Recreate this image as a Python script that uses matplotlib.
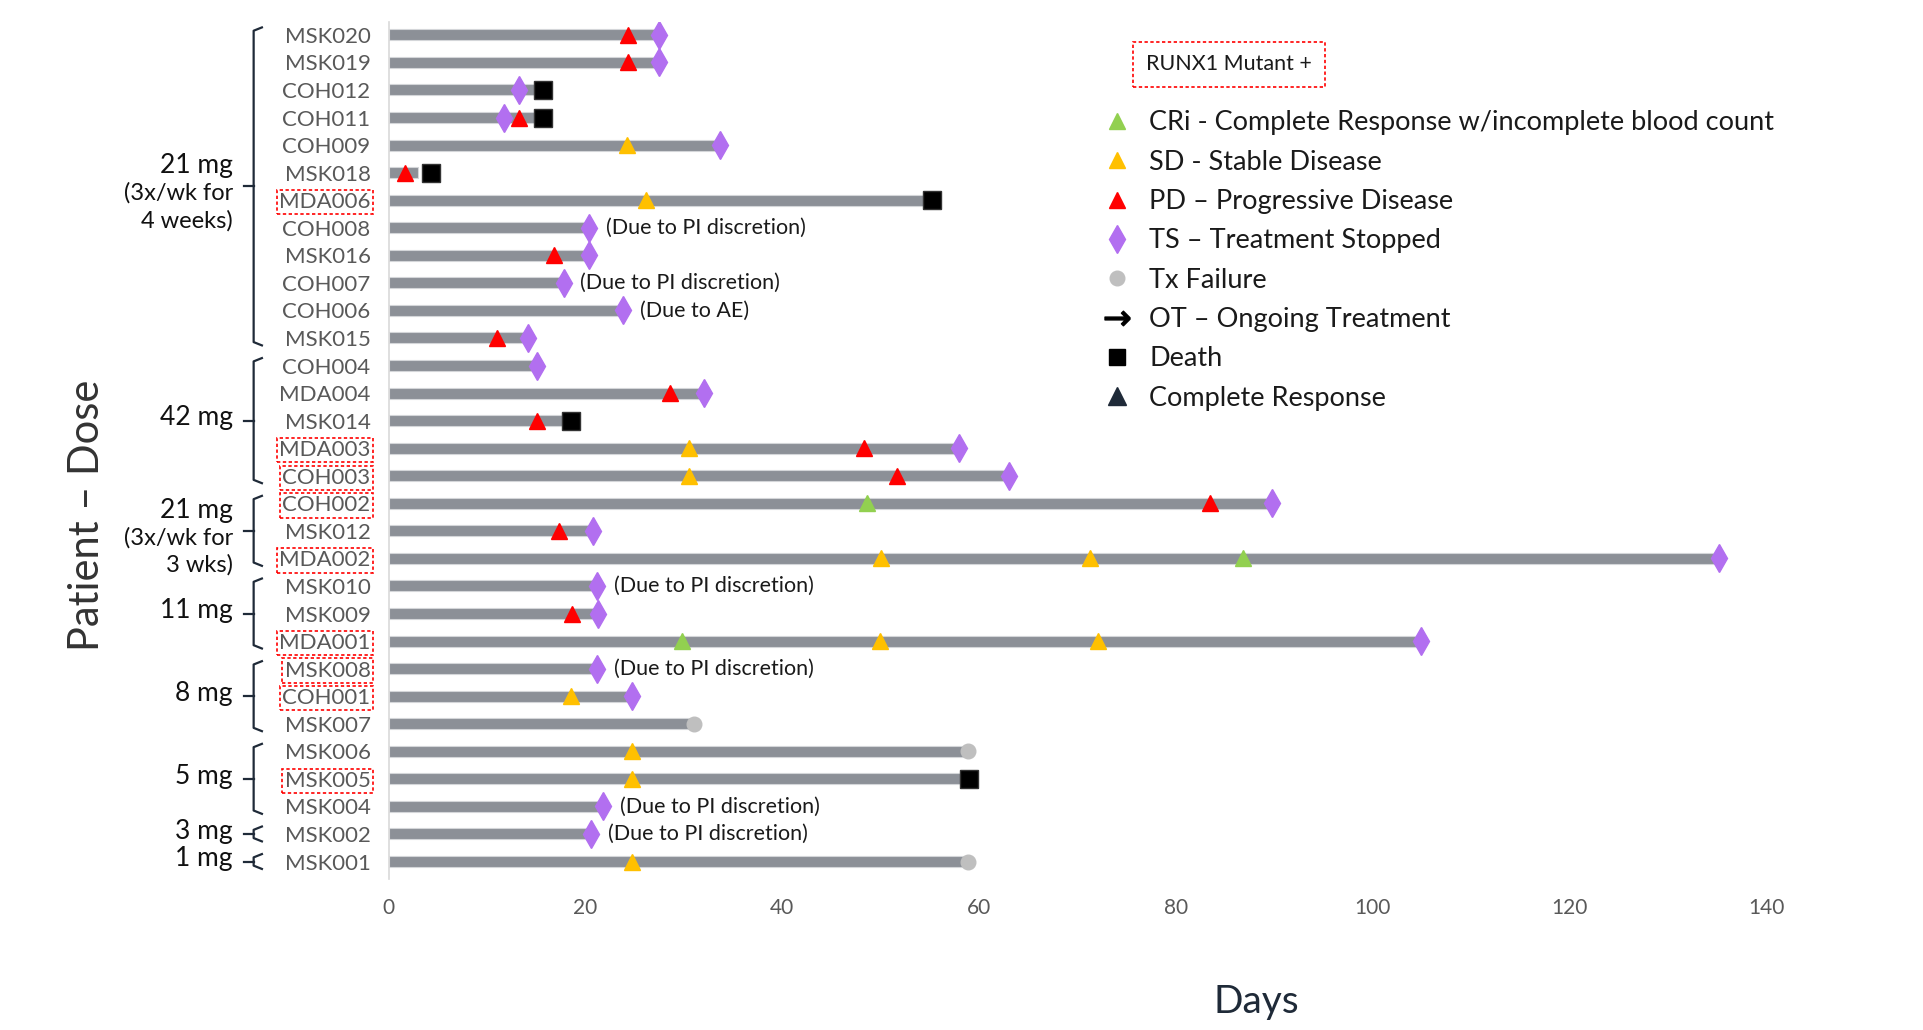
import matplotlib
matplotlib.use("Agg")
import matplotlib.pyplot as plt
from matplotlib.lines import Line2D

plt.rcParams['font.family'] = ['Lato', 'DejaVu Sans']

# patients, top to bottom, and how long each bar runs (days)
patients = ['MSK020', 'MSK019', 'COH012', 'COH011', 'COH009', 'MSK018', 'MDA006',
            'COH008', 'MSK016', 'COH007', 'COH006', 'MSK015',
            'COH004', 'MDA004', 'MSK014', 'MDA003', 'COH003',
            'COH002', 'MSK012', 'MDA002',
            'MSK010', 'MSK009', 'MDA001',
            'MSK008', 'COH001', 'MSK007',
            'MSK006', 'MSK005', 'MSK004',
            'MSK002', 'MSK001']
duration = [27.5, 27.5, 15.3, 15.3, 33.7, 3.0, 55.0,
            20.4, 20.4, 17.8, 23.8, 14.2,
            15.1, 32.0, 18.0, 58.0, 63.0,
            89.8, 20.8, 135.2,
            21.2, 21.3, 104.9,
            21.2, 24.7, 30.6,
            58.7, 58.7, 21.8,
            20.6, 58.7]
runx1_mutant = ['MDA006', 'MDA003', 'COH003', 'COH002', 'MDA002', 'MDA001',
                'MSK008', 'COH001', 'MSK005']

cri_events = [('COH002', 48.6), ('MDA002', 86.8), ('MDA001', 29.8)]
sd_events = [('COH009', 24.2), ('MDA006', 26.2), ('MDA003', 30.5), ('COH003', 30.5),
             ('MDA002', 50.0), ('MDA002', 71.3), ('MDA001', 49.9), ('MDA001', 72.1),
             ('COH001', 18.5), ('MSK006', 24.7), ('MSK005', 24.7), ('MSK001', 24.7)]
pd_events = [('MSK020', 24.3), ('MSK019', 24.3), ('COH011', 13.2), ('MSK018', 1.7),
             ('MSK016', 16.8), ('MSK015', 11.0), ('MDA004', 28.6), ('MSK014', 15.1),
             ('MDA003', 48.3), ('COH003', 51.7), ('COH002', 83.5), ('MSK012', 17.3),
             ('MSK009', 18.6)]
ts_events = [('MSK020', 27.5), ('MSK019', 27.5), ('COH012', 13.2), ('COH011', 11.7),
             ('COH009', 33.7), ('COH008', 20.4), ('MSK016', 20.4), ('COH007', 17.8),
             ('COH006', 23.8), ('MSK015', 14.2), ('COH004', 15.1), ('MDA004', 32.0),
             ('MDA003', 58.0), ('COH003', 63.0), ('COH002', 89.8), ('MSK012', 20.8),
             ('MDA002', 135.2), ('MSK010', 21.2), ('MSK009', 21.3), ('MDA001', 104.9),
             ('MSK008', 21.2), ('COH001', 24.7), ('MSK004', 21.8), ('MSK002', 20.6)]
txfail_events = [('MSK007', 31.0), ('MSK006', 58.9), ('MSK001', 58.9)]
death_events = [('COH012', 15.7), ('COH011', 15.7), ('MSK018', 4.3), ('MDA006', 55.2),
                ('MSK014', 18.5), ('MSK005', 59.0)]

notes = {'COH008': '(Due to PI discretion)', 'COH007': '(Due to PI discretion)',
         'COH006': '(Due to AE)', 'MSK010': '(Due to PI discretion)',
         'MSK008': '(Due to PI discretion)', 'MSK004': '(Due to PI discretion)',
         'MSK002': '(Due to PI discretion)'}

# dose groups: label lines, first patient, last patient
dose_groups = [(['21 mg', '(3x/wk for', '4 weeks)'], 'MSK020', 'MSK015'),
               (['42 mg'], 'COH004', 'COH003'),
               (['21 mg', '(3x/wk for', '3 wks)'], 'COH002', 'MDA002'),
               (['11 mg'], 'MSK010', 'MDA001'),
               (['8 mg'], 'MSK008', 'MSK007'),
               (['5 mg'], 'MSK006', 'MSK004'),
               (['3 mg'], 'MSK002', 'MSK002'),
               (['1 mg'], 'MSK001', 'MSK001')]

GREEN = '#92d050'
ORANGE = '#ffc000'
RED = '#ff0000'
PURPLE = '#b26ff0'
LGREY = '#bfbfbf'
NAVY = '#1f2a38'
BAR = '#8c9097'

row = {p: i for i, p in enumerate(patients)}

fig = plt.figure(figsize=(19.24, 10.30), dpi=100)
ax = fig.add_axes([0.202, 0.147, 0.716, 0.832])

ax.barh(range(len(patients)), duration, height=0.4, color=BAR,
        edgecolor='#d4d6d9', linewidth=0.8, zorder=2)


def plot_events(events, **kw):
    xs = [d for p, d in events]
    ys = [row[p] for p, d in events]
    ax.plot(xs, ys, linestyle='none', zorder=4, **kw)


plot_events(cri_events, marker='^', color=GREEN, markersize=11)
plot_events(sd_events, marker='^', color=ORANGE, markersize=11)
plot_events(pd_events, marker='^', color=RED, markersize=11)
plot_events(death_events, marker='s', color='black', markersize=12.5,
            markeredgecolor='#333333')
plot_events(txfail_events, marker='o', color=LGREY, markersize=10.5)
plot_events(ts_events, marker='d', color=PURPLE, markersize=14)

for p, txt in notes.items():
    ts_day = [d for q, d in ts_events if q == p][0]
    ax.annotate(txt, (ts_day, row[p]), xytext=(12, 0), textcoords='offset points',
                ha='left', va='center', fontsize=15.5, color='#1a1a1a')

ax.set_xlim(0, 140)
ax.set_ylim(len(patients) - 0.38, -0.48)
ax.set_xticks(range(0, 141, 20))
ax.set_yticks(range(len(patients)))
ax.set_yticklabels(patients)
ax.tick_params(axis='y', length=0, pad=13, labelsize=16, labelcolor='#595959')
ax.tick_params(axis='x', length=0, pad=14, labelsize=15, labelcolor='#595959')
for lab in ax.get_yticklabels():
    if lab.get_text() in runx1_mutant:
        lab.set_bbox(dict(boxstyle='square,pad=0.1', fc='none', ec='red',
                          ls=(0, (2, 1.5)), lw=1.2))
for s in ['top', 'right', 'bottom']:
    ax.spines[s].set_visible(False)
ax.spines['left'].set_color('#d9d9d9')
ax.spines['left'].set_linewidth(1.2)

# dose brackets
tr = ax.get_yaxis_transform()
bx, hook, tick = -0.098, 0.006, 0.007
for lines, first, last in dose_groups:
    y0 = row[first] - 0.15
    y1 = row[last] + 0.15
    ym = (row[first] + row[last]) / 2
    ax.plot([bx + hook, bx, bx, bx + hook], [y0 - 0.12, y0, y1, y1 + 0.12],
            transform=tr, clip_on=False, color=NAVY, lw=1.6)
    ax.plot([bx - tick, bx], [ym, ym], transform=tr, clip_on=False,
            color=NAVY, lw=1.6)
    n = len(lines)
    for k, t in enumerate(lines):
        off = (k - (n - 1) / 2) * 1.0 + (0.25 if n > 1 else -0.1)
        ax.text(-0.113, ym + off, t, transform=tr, ha='right', va='center',
                fontsize=19 if k == 0 else 17, color='#111111')

# legend
handles = [
    Line2D([], [], ls='none', marker='^', color=GREEN, markersize=11),
    Line2D([], [], ls='none', marker='^', color=ORANGE, markersize=11),
    Line2D([], [], ls='none', marker='^', color=RED, markersize=11),
    Line2D([], [], ls='none', marker='d', color=PURPLE, markersize=14),
    Line2D([], [], ls='none', marker='o', color=LGREY, markersize=10.5),
    Line2D([], [], ls='none', marker=r'$\rightarrow$', color='black', markersize=18),
    Line2D([], [], ls='none', marker='s', color='black', markersize=12),
    Line2D([], [], ls='none', marker='^', color=NAVY, markersize=13),
]
labels = ['CRi - Complete Response w/incomplete blood count', 'SD - Stable Disease',
          'PD – Progressive Disease', 'TS – Treatment Stopped', 'Tx Failure',
          'OT – Ongoing Treatment', 'Death', 'Complete Response']
ax.legend(handles, labels, loc='upper left', bbox_to_anchor=(0.499, 0.925),
          frameon=False, fontsize=19.5, labelspacing=0.53, handlelength=1.2,
          handletextpad=0.6, labelcolor='#1a1a1a')

ax.text(0.550, 0.950, 'RUNX1 Mutant +', transform=ax.transAxes, ha='left',
        va='center', fontsize=15.5, color='#1a1a1a',
        bbox=dict(boxstyle='square,pad=0.6', fc='none', ec='red',
                  ls=(0, (2, 1.5)), lw=1.2))

fig.text(0.045, 0.5, 'Patient – Dose', rotation=90, ha='center', va='center',
         fontsize=30, color='#333333')
fig.text(0.653, 0.027, 'Days', ha='center', va='center', fontsize=28, color=NAVY)

fig.savefig('out.png', dpi=100)
